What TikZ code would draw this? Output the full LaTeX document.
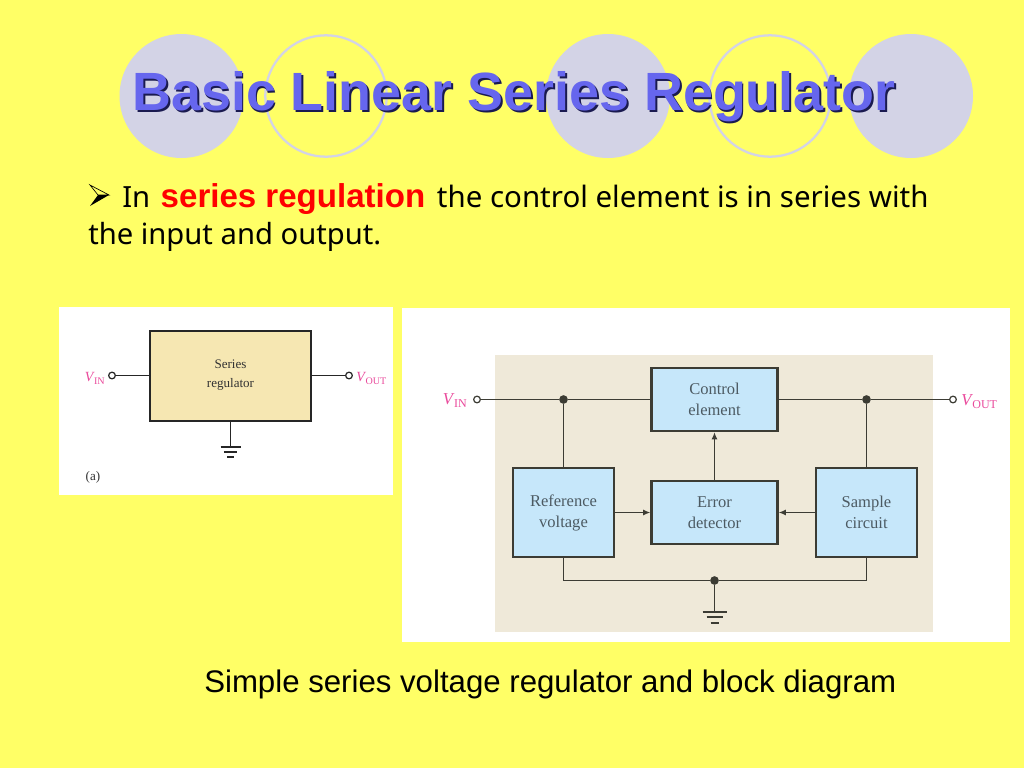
\documentclass[tikz,border=0pt]{standalone}
\usepackage{fontspec}
\setmainfont{Liberation Sans}
\newfontfamily\diagfont{Liberation Serif}
\newfontfamily\bodyfont{Noto Sans}
\newfontfamily\keyfont{Liberation Sans}
\definecolor{slidebg}{HTML}{FFFF66}
\definecolor{disc}{HTML}{D3D3E6}
\definecolor{titleblue}{HTML}{6666EE}
\definecolor{titleshade}{HTML}{1A1A50}
\definecolor{tan}{HTML}{EFE9D9}
\definecolor{ltan}{HTML}{F6E7B2}
\definecolor{cyanbox}{HTML}{C6E7FA}
\definecolor{wire}{HTML}{3C3C34}
\definecolor{boxtext}{HTML}{4C5A62}
\definecolor{pink}{HTML}{EA4A9C}
\definecolor{keyred}{HTML}{FF0000}
\newcommand{\volt}[1]{\textit{V}\kern-0.5pt\raisebox{-0.22em}{\scalebox{0.72}{#1}}}
\usetikzlibrary{arrows.meta}
\tikzset{
  x=0.75pt,y=-0.75pt,
  fulldisc/.style={circle,fill=disc,draw=none,inner sep=0pt,minimum size=93pt},
  ringdisc/.style={circle,draw=disc,line width=1.7pt,inner sep=0pt,minimum size=91pt},
  sizedbox/.style 2 args={rectangle,inner sep=0pt,minimum width=#1*0.75pt,minimum height=#2*0.75pt,align=center},
  lbox/.style={draw=black!85,line width=1.5pt,fill=ltan,font=\diagfont\fontsize{9.8}{14.2}\selectfont,text=black!80},
  rbox/.style={draw=wire,line width=1.6pt,fill=cyanbox,font=\diagfont\fontsize{12.4}{15.8}\selectfont,text=boxtext},
  lwire/.style={draw=black!85,line width=1.1pt},
  rwire/.style={draw=wire,line width=1.1pt},
  terminal/.style={circle,draw=#1,fill=white,line width=0.9pt,inner sep=0pt,minimum size=5pt},
  junction/.style={circle,fill=wire,draw=none,inner sep=0pt,minimum size=6.5pt},
  vlabel/.style={text=pink,font=\diagfont\fontsize{#1}{#1}\selectfont,inner sep=0pt},
  arrowed/.style={rwire,-{Latex[length=5.5pt,width=4.5pt]}},
  bodytext/.style={text=black,inner sep=0pt}
}
\begin{document}
\begin{tikzpicture}
\useasboundingbox (0,0) rectangle (1024,768);
\fill[slidebg] (0,0) rectangle (1024,768);
% decorative discs
\node[fulldisc] (d1) at (181.5,96) {};
\node[ringdisc] (d2) at (326,96) {};
\node[fulldisc] (d3) at (608,96) {};
\node[ringdisc] (d4) at (770,96) {};
\node[fulldisc] (d5) at (911,96) {};
% title
\node[inner sep=0pt,anchor=base west,font=\bfseries\fontsize{40.4}{44}\selectfont] (title) at (132,110.5)
  {\rlap{\kern1.4pt\raisebox{-1.4pt}{\textcolor{titleshade}{Basic Linear Series Regulator}}}\textcolor{titleblue}{Basic Linear Series Regulator}};
% bullet arrowhead
\filldraw[draw=black,fill=slidebg,line width=0.5pt,line join=miter] (90,185) -- (109,195) -- (98,195) -- cycle;
\fill[black] (90,206) -- (109,195) -- (98,195) -- cycle;
% body
\node[bodytext,anchor=base west,align=left,font=\bodyfont\fontsize{21.9}{27.75}\selectfont] (body) at (88,244)
  {\hspace*{25.5pt}In\hspace{2.2pt} \textcolor{keyred}{{\keyfont\bfseries\fontsize{24.8}{27.75}\selectfont series regulation}}\hspace{3pt} {\fontsize{22.1}{27.75}\selectfont the control element is in series with}\\the input and output.};
\node[bodytext,anchor=base west,font=\fontsize{23.4}{28}\selectfont] (caption) at (204,692) {Simple series voltage regulator and block diagram};
% left picture
\fill[white] (59,307) rectangle (393,495);
\node[sizedbox={161}{90},lbox] (sr) at (230.5,375.5) {Series\\regulator};
\node[terminal=black!85] (lin) at (112,375.5) {};
\node[terminal=black!85] (lout) at (349,375.5) {};
\draw[lwire] (lin) -- (sr.west |- lin);
\draw[lwire] (sr.east |- lout) -- (lout);
\node[vlabel=10.5,anchor=base east] (lvin) at (105,381) {\volt{IN}};
\node[vlabel=10.5,anchor=base west] (lvout) at (356,381) {\volt{OUT}};
\coordinate (lg) at (230.5,447);
\draw[lwire] (sr.south) -- (lg);
\draw[lwire,line width=1.3pt] ([xshift=-7.5pt]lg) -- ([xshift=7.5pt]lg);
\draw[lwire,line width=1.3pt] ([xshift=-5pt,yshift=-3.8pt]lg) -- ([xshift=5pt,yshift=-3.8pt]lg);
\draw[lwire,line width=1.3pt] ([xshift=-2.5pt,yshift=-7.6pt]lg) -- ([xshift=2.5pt,yshift=-7.6pt]lg);
\node[inner sep=0pt,font=\diagfont\fontsize{9.8}{12}\selectfont,text=black!80] (la) at (93,477) {(a)};
% right picture
\fill[white] (402,308) rectangle (1010,642);
\fill[tan] (495,355) rectangle (933,632);
\node[sizedbox={126}{63},rbox] (ctrl) at (714.5,399.5) {Control\\element};
\node[sizedbox={126}{63},rbox] (err) at (714.5,512.5) {Error\\detector};
\node[sizedbox={101}{89},rbox] (ref) at (563.5,512.5) {Reference\\voltage};
\node[sizedbox={101}{89},rbox] (smp) at (866.5,512.5) {Sample\\circuit};
\node[terminal=wire] (rin) at (477,399.5) {};
\node[terminal=wire] (rout) at (953,399.5) {};
\node[junction] (j1) at (563.5,399.5) {};
\node[junction] (j2) at (866.5,399.5) {};
\node[junction] (j3) at (714.5,580.5) {};
\coordinate (rg) at (714.5,612);
\draw[rwire] (rin) -- (j1) -- (ctrl.west);
\draw[rwire] (ctrl.east) -- (j2) -- (rout);
\draw[rwire] (j1) -- (ref.north);
\draw[rwire] (j2) -- (smp.north);
\draw[rwire] (ref.south) |- (j3);
\draw[rwire] (smp.south) |- (j3);
\draw[rwire] (j3) -- (rg);
\draw[arrowed] (err.north) -- (ctrl.south);
\draw[arrowed] (ref.east) -- (err.west);
\draw[arrowed] (smp.west) -- (err.east);
\draw[rwire,line width=1.4pt] ([xshift=-9pt]rg) -- ([xshift=9pt]rg);
\draw[rwire,line width=1.4pt] ([xshift=-6pt,yshift=-4pt]rg) -- ([xshift=6pt,yshift=-4pt]rg);
\draw[rwire,line width=1.4pt] ([xshift=-3pt,yshift=-8pt]rg) -- ([xshift=3pt,yshift=-8pt]rg);
\node[vlabel=12.5,anchor=base east] (rvin) at (467,404) {\volt{IN}};
\node[vlabel=12.5,anchor=base west] (rvout) at (961,405) {\volt{OUT}};
\end{tikzpicture}
\end{document}
